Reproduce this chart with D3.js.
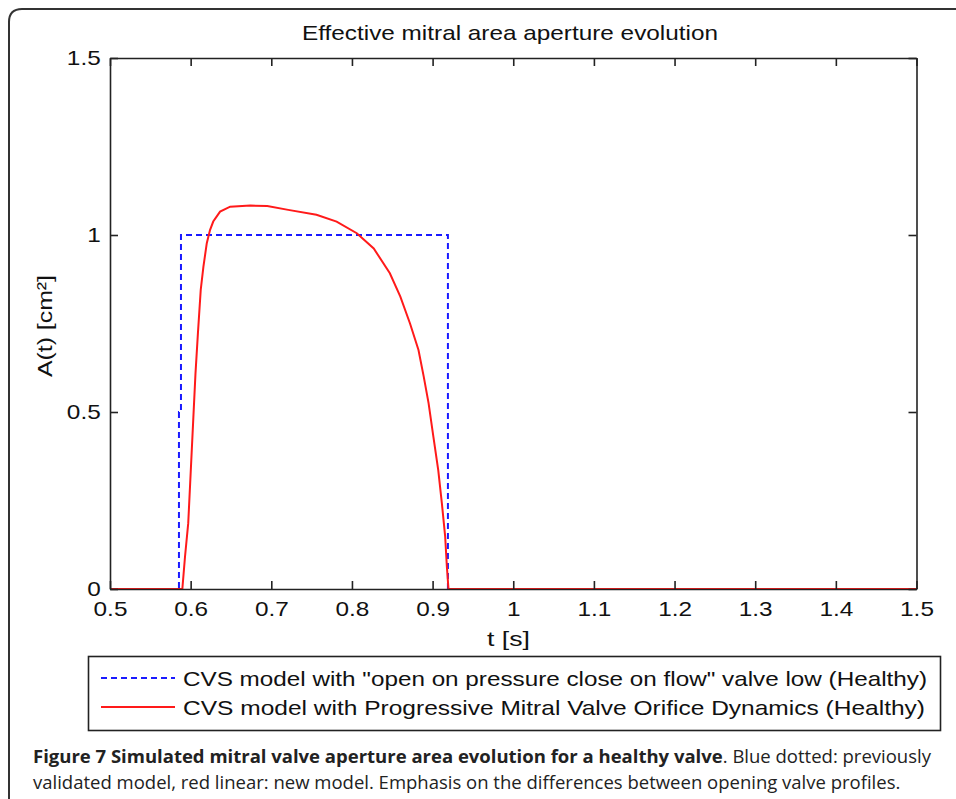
<!DOCTYPE html>
<html>
<head>
<meta charset="utf-8">
<script src="https://cdn.jsdelivr.net/npm/d3@7/dist/d3.min.js"></script>
<style>
  html, body { margin: 0; padding: 0; background: #fff; }
  svg { display: block; }
  text { font-family: "Liberation Sans", Arial, sans-serif; fill: #111; }
  .cap { font-family: "Open Sans", "Noto Sans", sans-serif; fill: #222; }
</style>
</head>
<body>
<svg id="chart" width="956" height="799"></svg>
<script>
// ---- data ----
const title = "Effective mitral area aperture evolution";
const xLabel = "t [s]";
const yLabel = "A(t) [cm\u00B2]";
const xTicks = [0.5, 0.6, 0.7, 0.8, 0.9, 1, 1.1, 1.2, 1.3, 1.4, 1.5];
const yTicks = [0, 0.5, 1, 1.5];
const seriesNames = [
  "CVS model with \"open on pressure close on flow\" valve low (Healthy)",
  "CVS model with Progressive Mitral Valve Orifice Dynamics (Healthy)"
];
// Blue dashed: previous model (on/off valve)
const blueT = [0.5, 0.5855, 0.5855, 0.588, 0.588, 0.919, 0.919, 1.5];
const blueA = [0,   0,      0.5,    0.5,   1,     1,     0,     0];
// Red solid: progressive valve model
const redT = [0.5, 0.5897, 0.593, 0.597, 0.600, 0.603, 0.606, 0.609, 0.6125, 0.6158, 0.620, 0.624, 0.628, 0.6365, 0.649, 0.674, 0.695, 0.721, 0.756, 0.781, 0.806, 0.827, 0.847, 0.860, 0.872, 0.8825, 0.889, 0.895, 0.901, 0.907, 0.9115, 0.9156, 0.9177, 0.9197, 1.5];
const redA = [0,   0,      0.091, 0.186, 0.327, 0.468, 0.609, 0.722, 0.845,  0.910,  0.977, 1.014, 1.038, 1.066,  1.080, 1.083, 1.082, 1.071, 1.057, 1.038, 1.005, 0.962, 0.892, 0.826, 0.750, 0.675,  0.600, 0.525, 0.430, 0.336, 0.242,  0.148,  0.063,  0,      0];
const captionBold = "Figure 7 Simulated mitral valve aperture area evolution for a healthy valve";
const captionRest1 = ". Blue dotted: previously";
const captionLine2 = "validated model, red linear: new model. Emphasis on the differences between opening valve profiles.";

// ---- layout ----
const svg = d3.select("#chart");
const L = 110, R = 916.5, T = 58, B = 589;
const x = d3.scaleLinear().domain([0.5, 1.5]).range([L, R]);
const y = d3.scaleLinear().domain([0, 1.5]).range([B, T]);
const stretch = 1.16;

// outer frame (rounded, open to right/bottom)
svg.append("path")
  .attr("d", `M9,800 L9,22 Q9,9 22,9 L960,9`)
  .attr("fill", "none").attr("stroke", "#333").attr("stroke-width", 2);

// title
svg.append("text").attr("x", 302).attr("y", 40)
  .attr("font-size", 21).attr("textLength", 416).attr("lengthAdjust", "spacingAndGlyphs").text(title);

// series
const blueData = blueT.map((t, i) => [t, blueA[i]]);
const redData = redT.map((t, i) => [t, redA[i]]);
const line = d3.line().x(d => x(d[0])).y(d => y(d[1]));

svg.append("path").datum(blueData).attr("d", line)
  .attr("fill", "none").attr("stroke", "#1a1aff").attr("stroke-width", 2)
  .attr("stroke-dasharray", "6,4");
svg.append("path").datum(redData).attr("d", line)
  .attr("fill", "none").attr("stroke", "#ff1a1a").attr("stroke-width", 2);

// axes box with inward ticks on all sides
const tickLen = 8;
const axStyle = g => {
  g.select(".domain").attr("stroke", "#222").attr("stroke-width", 1.6);
  g.selectAll(".tick line").attr("stroke", "#222").attr("stroke-width", 1.6);
  g.selectAll(".tick text").attr("font-size", 21).attr("fill", "#111")
    .attr("font-family", "'Liberation Sans', Arial, sans-serif");
};
const fmt = d => String(d);
svg.append("g").attr("transform", `translate(0,${B})`)
  .call(d3.axisBottom(x).tickValues(xTicks).tickFormat(fmt).tickSize(-tickLen).tickSizeOuter(0).tickPadding(12))
  .call(axStyle)
  .selectAll(".tick text").attr("transform", `scale(${stretch},1)`);
svg.append("g").attr("transform", `translate(0,${T})`)
  .call(d3.axisTop(x).tickValues(xTicks).tickFormat("").tickSize(-tickLen).tickSizeOuter(0))
  .call(axStyle);
svg.append("g").attr("transform", `translate(${L},0)`)
  .call(d3.axisLeft(y).tickValues(yTicks).tickFormat(fmt).tickSize(-tickLen).tickSizeOuter(0).tickPadding(8))
  .call(axStyle)
  .selectAll(".tick text").attr("transform", `scale(${stretch},1)`);
svg.append("g").attr("transform", `translate(${R},0)`)
  .call(d3.axisRight(y).tickValues(yTicks).tickFormat("").tickSize(-tickLen).tickSizeOuter(0))
  .call(axStyle);

// axis labels
svg.append("text").attr("x", 487).attr("y", 646)
  .attr("font-size", 21).attr("textLength", 43).attr("lengthAdjust", "spacingAndGlyphs").text(xLabel);
svg.append("text").attr("transform", `translate(52,377) rotate(-90)`)
  .attr("font-size", 21).attr("textLength", 102).attr("lengthAdjust", "spacingAndGlyphs").text(yLabel);

// legend
const lg = svg.append("g");
lg.append("rect").attr("x", 88.5).attr("y", 656.5).attr("width", 852).attr("height", 74)
  .attr("fill", "#fff").attr("stroke", "#222").attr("stroke-width", 1.6);
const legendColors = ["#1a1aff", "#ff1a1a"];
const legendDash = ["6,4", null];
const legendY = [678, 707];
const legendLen = [744, 742];
seriesNames.forEach((name, i) => {
  lg.append("line").attr("x1", 101).attr("x2", 175).attr("y1", legendY[i]).attr("y2", legendY[i])
    .attr("stroke", legendColors[i]).attr("stroke-width", 2)
    .attr("stroke-dasharray", legendDash[i]);
  lg.append("text").attr("x", 183).attr("y", legendY[i] + 7.5)
    .attr("font-size", 21).attr("textLength", legendLen[i]).attr("lengthAdjust", "spacingAndGlyphs").text(name);
});

// caption
const c1 = svg.append("text").attr("class", "cap").attr("x", 33).attr("y", 763).attr("font-size", 18.5);
c1.append("tspan").attr("font-weight", "bold").text(captionBold);
c1.append("tspan").text(captionRest1);
svg.append("text").attr("class", "cap").attr("x", 33).attr("y", 789).attr("font-size", 18.5).text(captionLine2);
</script>
</body>
</html>
